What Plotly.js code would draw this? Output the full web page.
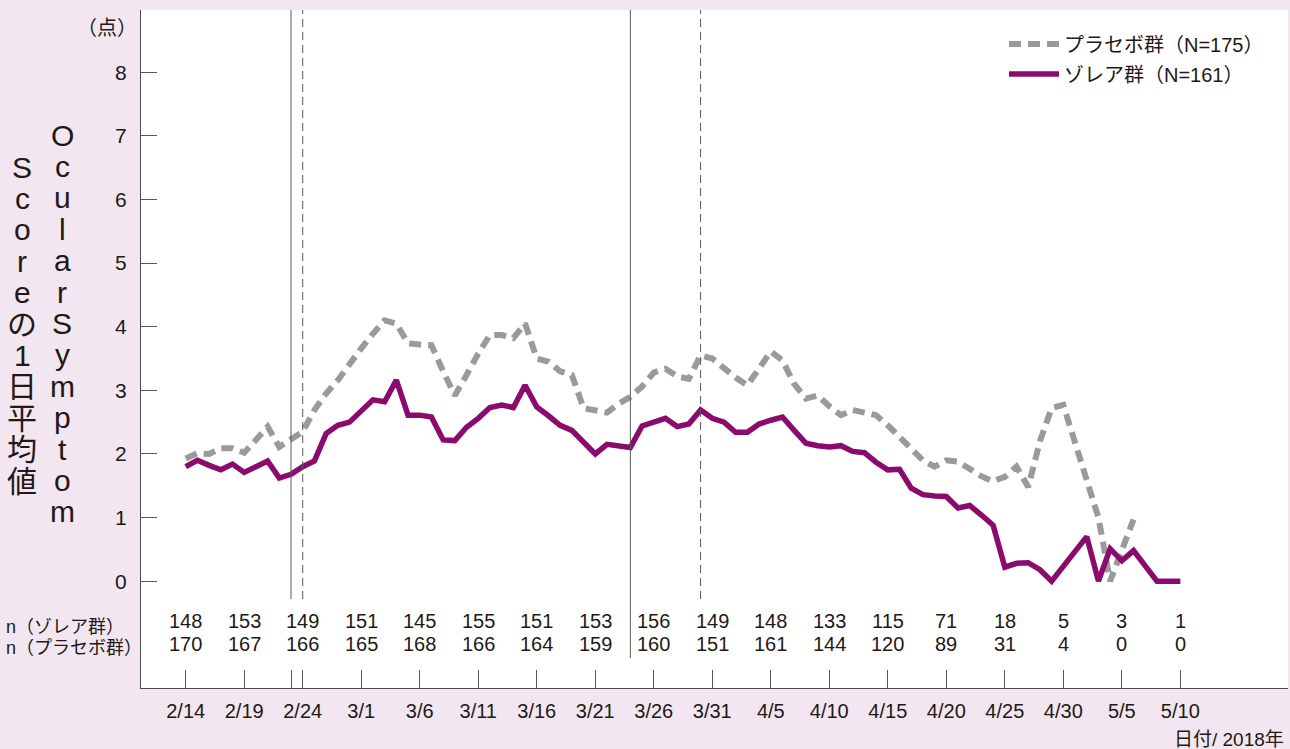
<!DOCTYPE html>
<html>
<head>
<meta charset="utf-8">
<script src="https://cdn.plot.ly/plotly-3.0.1.min.js"></script>
<style>
  html, body { margin: 0; padding: 0; background: #f2e6f0; }
  #chart { width: 1290px; height: 749px; }
</style>
</head>
<body>
<div id="chart"></div>
<script>
// ---------------- data ----------------
const startDate = '2018-02-14';
// Daily mean Ocular Symptom Score, Xolair group (from 2/14)
const xolairScore = [
  1.80, 1.90, 1.82, 1.75, 1.84, 1.71, 1.80, 1.89, 1.62, 1.68,
  1.80, 1.89, 2.32, 2.45, 2.50, 2.68, 2.85, 2.82, 3.16, 2.61,
  2.61, 2.58, 2.22, 2.21, 2.42, 2.56, 2.73, 2.77, 2.73, 3.08,
  2.74, 2.60, 2.45, 2.37, 2.19, 2.00, 2.15, 2.13, 2.10, 2.44,
  2.50, 2.56, 2.43, 2.47, 2.69, 2.56, 2.50, 2.34, 2.34, 2.47,
  2.53, 2.58, 2.37, 2.17, 2.13, 2.11, 2.13, 2.04, 2.02, 1.87,
  1.75, 1.76, 1.46, 1.36, 1.34, 1.33, 1.15, 1.19, 1.04, 0.88,
  0.22, 0.28, 0.29, 0.18, 0.00, 0.23, 0.46, 0.70, 0.00, 0.51,
  0.32, 0.48, 0.24, 0.00, 0.00, 0.00
];
// Daily mean Ocular Symptom Score, placebo group (from 2/14)
const placeboScore = [
  1.93, 2.01, 2.00, 2.09, 2.09, 2.02, 2.22, 2.43, 2.11, 2.22,
  2.35, 2.69, 2.95, 3.16, 3.42, 3.66, 3.89, 4.10, 4.05, 3.74,
  3.72, 3.71, 3.30, 2.92, 3.24, 3.58, 3.87, 3.87, 3.82, 4.05,
  3.50, 3.45, 3.30, 3.24, 2.72, 2.68, 2.65, 2.79, 2.90, 3.06,
  3.28, 3.34, 3.22, 3.18, 3.55, 3.50, 3.34, 3.20, 3.08, 3.35,
  3.61, 3.47, 3.10, 2.87, 2.92, 2.75, 2.61, 2.69, 2.65, 2.61,
  2.45, 2.27, 2.06, 1.90, 1.80, 1.90, 1.88, 1.77, 1.65, 1.57,
  1.64, 1.80, 1.48, 2.20, 2.72, 2.77, 2.20, 1.60, 1.00, 0.00,
  0.48, 0.97
];
const tickLabels = ['2/14','2/19','2/24','3/1','3/6','3/11','3/16','3/21','3/26',
                    '3/31','4/5','4/10','4/15','4/20','4/25','4/30','5/5','5/10'];
const nXolair  = [148,153,149,151,145,155,151,153,156,149,148,133,115,71,18,5,3,1];
const nPlacebo = [170,167,166,165,168,166,164,159,160,151,161,144,120,89,31,4,0,0];
const solidMarkers  = ['2018-02-23','2018-03-24'];
const dashedMarkers = ['2018-02-24','2018-03-30'];
const extraTick = '2018-02-23';
const yTicks = [0,1,2,3,4,5,6,7,8];

// ---------------- helpers ----------------
const DAY = 86400000;
const baseMs = Date.UTC(2018, 1, 14);
function pad(n){ return String(n).padStart(2,'0'); }
function fmt(ms){
  const d = new Date(ms);
  return d.getUTCFullYear()+'-'+pad(d.getUTCMonth()+1)+'-'+pad(d.getUTCDate())+' '+
         pad(d.getUTCHours())+':'+pad(d.getUTCMinutes())+':'+pad(d.getUTCSeconds());
}
function dayDate(i){ return fmt(baseMs + i*DAY).slice(0,10); }
function labelDate(lbl){ const p = lbl.split('/'); return '2018-'+pad(+p[0])+'-'+pad(+p[1]); }

const W = 1290, H = 749;
const M = {l:141, r:2, t:10, b:61};
const PW = W - M.l - M.r, PH = H - M.t - M.b;
const px = x => (x - M.l)/PW;
const py = y => (H - M.b - y)/PH;

const xolairX = xolairScore.map((_, i) => dayDate(i));
const placeboX = placeboScore.map((_, i) => dayDate(i));
const tickDates = tickLabels.map(labelDate);

const ink = '#231815';
const font = 'Liberation Sans, Arial, Noto Sans CJK JP, sans-serif';

const traces = [
  {
    x: placeboX, y: placeboScore, type: 'scatter', mode: 'lines',
    name: 'プラセボ群（N=175）',
    line: {color: '#9a9a9a', width: 6, dash: '12px,7px'},
    legend: 'legend'
  },
  {
    x: xolairX, y: xolairScore, type: 'scatter', mode: 'lines',
    name: 'ゾレア群（N=161）',
    line: {color: '#8a0b6d', width: 5.5},
    legend: 'legend2'
  }
];

const shapes = [];
solidMarkers.forEach((d, i) => {
  shapes.push({type:'line', xref:'x', yref:'paper', x0:d, x1:d,
    y0: py(i === 0 ? 599 : 658), y1: 1, line:{color:'#5a5a5a', width:1}});
});
dashedMarkers.forEach(d => {
  shapes.push({type:'line', xref:'x', yref:'paper', x0:d, x1:d,
    y0: py(599), y1: 1, line:{color:'#5a5a5a', width:1, dash:'8px,5px'}});
});

const annotations = [];
// n rows
tickDates.forEach((d, i) => {
  annotations.push({xref:'x', yref:'paper', x:d, y:py(621), text:String(nXolair[i]),
    showarrow:false, xanchor:'center', yanchor:'middle', font:{family:font, size:20, color:ink}});
  annotations.push({xref:'x', yref:'paper', x:d, y:py(644), text:String(nPlacebo[i]),
    showarrow:false, xanchor:'center', yanchor:'middle', font:{family:font, size:20, color:ink}});
});
annotations.push({xref:'paper', yref:'paper', x:px(4), y:py(627), text:'n（ゾレア群）',
  showarrow:false, xanchor:'left', yanchor:'middle', font:{family:font, size:18, color:ink}});
annotations.push({xref:'paper', yref:'paper', x:px(4), y:py(648), text:'n（プラセボ群）',
  showarrow:false, xanchor:'left', yanchor:'middle', font:{family:font, size:18, color:ink}});
// unit
annotations.push({xref:'paper', yref:'paper', x:px(107), y:py(28), text:'（点）',
  showarrow:false, xanchor:'center', yanchor:'middle', font:{family:font, size:20, color:ink}});
// x axis note
annotations.push({xref:'paper', yref:'paper', x:px(1286), y:py(739), text:'日付/ 2018年',
  showarrow:false, xanchor:'right', yanchor:'middle', font:{family:font, size:19, color:ink}});
// vertical y title (stacked characters)
const col1 = 'OcularSymptom'.split('');
const col2 = Array.from('Scoreの1日平均値');
col1.forEach((c, i) => annotations.push({xref:'paper', yref:'paper', x:px(62), y:py(135 + 31.4*i),
  text:c, showarrow:false, xanchor:'center', yanchor:'middle', font:{family:font, size:30, color:ink}}));
col2.forEach((c, i) => annotations.push({xref:'paper', yref:'paper', x:px(22), y:py(167 + 31.4*i),
  text:c, showarrow:false, xanchor:'center', yanchor:'middle', font:{family:font, size:30, color:ink}}));

const xr0 = fmt(baseMs - 3.82*DAY), xr1 = fmt(baseMs + 94.2*DAY);

const tv = tickDates.slice(); tv.splice(2, 0, extraTick);
const tt = tickLabels.slice(); tt.splice(2, 0, '');

const legendCommon = {
  bgcolor:'rgba(0,0,0,0)', borderwidth:0, font:{family:font, size:20, color:ink},
  xanchor:'left', yanchor:'middle', itemwidth:50, itemclick:false, itemdoubleclick:false
};

const layout = {
  width: W, height: H,
  margin: M,
  paper_bgcolor: '#f2e6f0',
  plot_bgcolor: '#ffffff',
  showlegend: true,
  legend: Object.assign({x: px(1004), y: py(44)}, legendCommon),
  legend2: Object.assign({x: px(1004), y: py(74)}, legendCommon),
  xaxis: {
    type:'date', range:[xr0, xr1], showgrid:false, zeroline:false,
    showline:true, linecolor:'#4a4a4a', linewidth:1,
    ticks:'inside', ticklen:18, tickcolor:'#5a5a5a', tickwidth:1,
    tickmode:'array', tickvals: tv, ticktext: tt,
    tickfont:{family:font, size:20, color:ink}, ticklabelstandoff: 5
  },
  yaxis: {
    range:[-1.68, 8.98], showgrid:false, zeroline:false,
    showline:true, linecolor:'#4a4a4a', linewidth:1,
    ticks:'inside', ticklen:16, tickcolor:'#5a5a5a', tickwidth:1,
    tickmode:'array', tickvals: yTicks,
    tickfont:{family:font, size:21, color:ink}, ticklabelstandoff: 9
  },
  shapes: shapes,
  annotations: annotations,
  hovermode: false
};

Plotly.newPlot('chart', traces, layout, {displayModeBar:false, staticPlot:true});
</script>
</body>
</html>
